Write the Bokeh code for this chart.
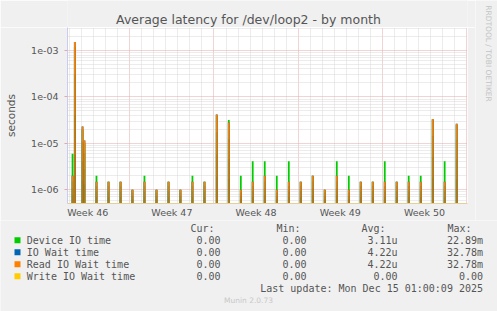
from bokeh.plotting import figure
from bokeh.models import FixedTicker, CustomJSTickFormatter, ColumnDataSource, Range1d
from bokeh.layouts import column, row
from bokeh.core.properties import value
from bokeh.embed import file_html
from bokeh.resources import INLINE

# ---------------- data ----------------
title_text = "Average latency for /dev/loop2 - by month"
y_label = "seconds"
# x in days since Mon Nov 10 2025 00:00
week_centers = [3.5, 10.5, 17.5, 24.5, 31.5]
week_labels = ["Week 46", "Week 47", "Week 48", "Week 49", "Week 50"]
week_bounds = [7, 14, 21, 28, 35]

spike_days = [2.24, 2.43, 3.07, 3.23, 4.23, 5.23, 6.23, 7.22, 8.22, 9.22,
              10.22, 11.21, 12.21, 13.21, 14.23, 15.23, 16.23, 17.22, 18.22, 19.22,
              20.22, 21.21, 22.21, 23.21, 24.21, 25.21, 26.20, 27.20, 28.20, 29.19,
              30.19, 31.19, 32.19, 33.18, 34.18]
device_io = [6.0e-6, 1.2e-3, 2.0e-5, 1.0e-5, 2.0e-6, 1.5e-6, 1.5e-6, 1.0e-6, 2.0e-6, 1.0e-6,
             1.5e-6, 1.0e-6, 2.0e-6, 1.5e-6, 4.0e-5, 3.2e-5, 2.0e-6, 4.1e-6, 4.1e-6, 2.0e-6,
             4.1e-6, 1.5e-6, 2.0e-6, 1.0e-6, 4.1e-6, 2.0e-6, 1.5e-6, 1.5e-6, 4.1e-6, 1.5e-6,
             2.0e-6, 2.0e-6, 3.2e-5, 4.1e-6, 2.5e-5]
io_wait = [2.0e-6, 1.52e-3, 2.3e-5, 1.15e-5, 1.5e-6, 1.5e-6, 1.5e-6, 1.0e-6, 1.5e-6, 1.0e-6,
           1.5e-6, 1.0e-6, 1.5e-6, 1.5e-6, 4.2e-5, 2.8e-5, 1.0e-6, 1.5e-6, 2.0e-6, 1.0e-6,
           1.5e-6, 1.5e-6, 2.0e-6, 1.0e-6, 2.0e-6, 1.0e-6, 1.5e-6, 1.5e-6, 1.5e-6, 1.5e-6,
           1.5e-6, 1.5e-6, 3.35e-5, 1.5e-6, 2.65e-5]
read_io_wait = [2.0e-6, 1.52e-3, 2.3e-5, 1.15e-5, 1.5e-6, 1.5e-6, 1.5e-6, 1.0e-6, 1.5e-6, 1.0e-6,
                1.5e-6, 1.0e-6, 1.5e-6, 1.5e-6, 4.2e-5, 2.8e-5, 1.0e-6, 1.5e-6, 2.0e-6, 1.0e-6,
                1.5e-6, 1.5e-6, 2.0e-6, 1.0e-6, 2.0e-6, 1.0e-6, 1.5e-6, 1.5e-6, 1.5e-6, 1.5e-6,
                1.5e-6, 1.5e-6, 3.35e-5, 1.5e-6, 2.65e-5]

series_names = ["Device IO time", "IO Wait time", "Read IO Wait time", "Write IO Wait time"]
series_colors = ["#00CC00", "#0066B3", "#FF8000", "#FFCC00"]
col_headers = ["Cur:", "Min:", "Avg:", "Max:"]
cur_vals = ["0.00", "0.00", "0.00", "0.00"]
min_vals = ["0.00", "0.00", "0.00", "0.00"]
avg_vals = ["3.11u", "4.22u", "4.22u", "0.00"]
max_vals = ["22.89m", "32.78m", "32.78m", "0.00"]
last_update = "Last update: Mon Dec 15 01:00:09 2025"
munin_version = "Munin 2.0.73"
side_text = "RRDTOOL / TOBI OETIKER"

# ---------------- layout constants ----------------
W, H = 497, 311
SIDE_W = 22            # right strip for the vertical credit text
HEAD_H = 27            # title strip
MAIN_H = 193           # main plot figure (canvas rows 27..220)
LEG_H = H - HEAD_H - MAIN_H
MAIN_W = W - SIDE_W
FRAME_L, FRAME_R, FRAME_B = 67, 467, 203
FL, FR, FB = FRAME_L, MAIN_W - FRAME_R, (HEAD_H + MAIN_H) - FRAME_B
X0, X1 = 1.82, 35.08
Y0, Y1 = 5.07e-7, 3.13e-3
BG = "#f0f0f0"
TXT = "#555555"


def blank(width, height, x0, x1, y0, y1, left=0, right=0):
    f = figure(width=width, height=height, x_range=Range1d(x0, x1), y_range=Range1d(y0, y1),
               output_backend="svg", toolbar_location=None,
               x_axis_location=None, y_axis_location=None,
               min_border=0, min_border_left=left, min_border_right=right,
               min_border_top=0, min_border_bottom=0)
    f.background_fill_color = BG
    f.border_fill_color = BG
    f.outline_line_color = None
    f.xgrid.visible = False
    f.ygrid.visible = False
    return f


# ---------------- header (title) ----------------
# same side borders as the main plot, so data x == page x
head = blank(MAIN_W, HEAD_H, FRAME_L, FRAME_R, HEAD_H, 0, left=FL, right=FR)
head.text(x=[248], y=[19], text=[title_text], text_font=value("DejaVu Sans"),
          text_font_size="12.5px", text_color=TXT, text_align="center",
          text_baseline="middle")

# ---------------- side strip (credit) ----------------
side = blank(SIDE_W, HEAD_H + MAIN_H, MAIN_W, W, HEAD_H + MAIN_H, 0)
side.text(x=[488], y=[53], text=[side_text], text_font=value("DejaVu Sans"),
          text_font_size="7.5px", text_color="#c4c4c4", text_align="center",
          text_baseline="middle", angle=-1.5707963)

# ---------------- main plot ----------------
p = figure(width=MAIN_W, height=MAIN_H, x_range=(X0, X1), y_range=(Y0, Y1),
           y_axis_type="log", output_backend="svg", toolbar_location=None, title=None,
           min_border_left=FL, min_border_right=FR, min_border_top=0,
           min_border_bottom=FB)
p.frame_width = FRAME_R - FRAME_L
p.frame_height = FRAME_B - HEAD_H
p.background_fill_color = "white"
p.border_fill_color = BG
p.outline_line_color = None

xa = p.xaxis[0]
xa.ticker = FixedTicker(ticks=week_centers)
xa.major_label_overrides = {c: l for c, l in zip(week_centers, week_labels)}
xa.major_tick_line_color = None
xa.minor_tick_line_color = None
xa.major_tick_out = 0
xa.major_tick_in = 0
xa.major_label_standoff = 3
xa.axis_line_color = "#e8cf98"
xa.major_label_text_font = "DejaVu Sans"
xa.major_label_text_font_size = "9.5px"
xa.major_label_text_color = TXT

p.xgrid.ticker = FixedTicker(ticks=week_bounds,
                             minor_ticks=[d for d in range(2, 36) if d % 7 != 0])
p.xgrid.grid_line_color = "#e6a8a8"
p.xgrid.grid_line_dash = "1 1"
p.xgrid.minor_grid_line_color = "#d8d8d8"
p.xgrid.minor_grid_line_dash = "1 1"

decades = [1e-6, 1e-5, 1e-4, 1e-3]
minors = [m * 10.0 ** e for e in range(-7, -2) for m in range(2, 10)]
ya = p.yaxis[0]
ya.ticker = FixedTicker(ticks=decades, minor_ticks=minors)
ya.formatter = CustomJSTickFormatter(code="""
const e = Math.round(Math.log10(tick));
const a = Math.abs(e);
return "1e" + (e < 0 ? "-" : "+") + (a < 10 ? "0" + a : "" + a);
""")
ya.major_tick_line_color = "#e6a8a8"
ya.major_tick_out = 3
ya.major_tick_in = 0
ya.minor_tick_line_color = None
ya.major_label_standoff = 5
ya.axis_line_color = "#c8ccee"
ya.major_label_text_font = "DejaVu Sans"
ya.major_label_text_font_size = "9.5px"
ya.major_label_text_color = TXT
ya.axis_label = y_label
ya.axis_label_text_font = "DejaVu Sans"
ya.axis_label_text_font_size = "10.5px"
ya.axis_label_text_font_style = "normal"
ya.axis_label_text_color = TXT
ya.axis_label_standoff = 11

p.ygrid.grid_line_color = "#e6a8a8"
p.ygrid.grid_line_dash = "1 1"
p.ygrid.minor_grid_line_color = "#d8d8d8"
p.ygrid.minor_grid_line_dash = "1 1"

hw = 0.075
base = 1e-9
src = ColumnDataSource(dict(
    left=[d - hw for d in spike_days],
    right=[d + hw for d in spike_days],
    dev=device_io, io=io_wait, rd=read_io_wait,
))
p.quad(left="left", right="right", bottom=base, top="dev", source=src,
       fill_color=series_colors[0], line_color=None)
p.quad(left="left", right="right", bottom=base, top="io", source=src,
       fill_color=series_colors[1], line_color=None)
p.quad(left="left", right="right", bottom=base, top="rd", source=src,
       fill_color=series_colors[2], line_color=None)
for f in (0.8, 0.55, 0.3):
    tops = [Y0 * (v / Y0) ** f for v in read_io_wait]
    p.quad(left=src.data["left"], right=src.data["right"], bottom=base, top=tops,
           fill_color="#5f6a28", fill_alpha=0.16, line_color=None)

# ---------------- legend strip ----------------
leg = blank(W, LEG_H, 0, W, H, HEAD_H + MAIN_H)
row_y = [239.7, 251.7, 263.7, 275.7]
head_x = [214, 300, 385, 471]
val_x = [220, 306, 397, 482.5]
mono = value("DejaVu Sans Mono")
leg.text(x=head_x, y=[227.5] * 4, text=col_headers, text_font=mono,
         text_font_size="10px", text_color=TXT, text_align="right", text_baseline="middle")
leg.quad(left=[14] * 4, right=[20] * 4, top=[y - 3 for y in row_y],
         bottom=[y + 3 for y in row_y], fill_color=series_colors, line_color=None)
leg.text(x=[26.3] * 4, y=row_y, text=series_names, text_font=mono,
         text_font_size="10px", text_color=TXT, text_align="left", text_baseline="middle")
for cx, vals in zip(val_x, [cur_vals, min_vals, avg_vals, max_vals]):
    leg.text(x=[cx] * 4, y=row_y, text=vals, text_font=mono, text_font_size="10px",
             text_color=TXT, text_align="right", text_baseline="middle")
leg.text(x=[482.5], y=[287.5], text=[last_update], text_font=mono, text_font_size="10px",
         text_color=TXT, text_align="right", text_baseline="middle")
leg.text(x=[248], y=[300], text=[munin_version], text_font=value("DejaVu Sans"),
         text_font_size="7.5px", text_color="#c8c8c8", text_align="center",
         text_baseline="middle")

layout = column(row(column(head, p, spacing=0), side, spacing=0), leg, spacing=0)
open("out.html", "w").write(file_html(layout, INLINE))
